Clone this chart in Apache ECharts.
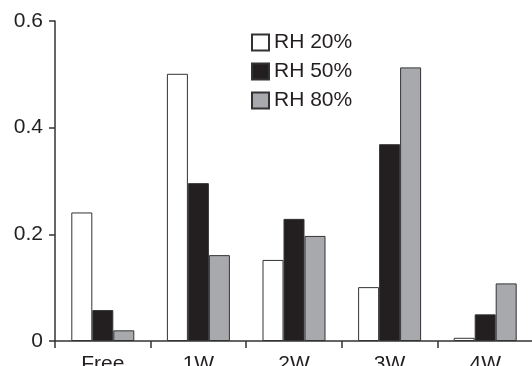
<!DOCTYPE html>
<html>
<head>
<meta charset="utf-8">
<script src="https://cdn.jsdelivr.net/npm/echarts@6/dist/echarts.min.js"></script>
<style>html,body{margin:0;padding:0;background:#fff;}#c{width:532px;height:366px;}</style>
</head>
<body>
<div id="c"></div>
<script>
const categories = ['Free', '1W', '2W', '3W', '4W'];
const seriesNames = ['RH 20%', 'RH 50%', 'RH 80%'];
const rh20 = [0.241, 0.501, 0.152, 0.101, 0.006];
const rh50 = [0.058, 0.296, 0.229, 0.369, 0.050];
const rh80 = [0.020, 0.161, 0.197, 0.513, 0.108];
const yTicks = [0, 0.2, 0.4, 0.6];

const colors = ['#ffffff', '#231f20', '#a7a9ac'];
const dataSets = [rh20, rh50, rh80];
const axisColor = '#333333';
const font = 'Liberation Sans, Arial, sans-serif';

const chart = echarts.init(document.getElementById('c'), null, {renderer: 'canvas'});
chart.setOption({
  animation: false,
  backgroundColor: '#ffffff',
  grid: {left: 55, right: -1, top: 21, bottom: 25, containLabel: false, outerBoundsMode: 'none'},
  legend: {
    orient: 'vertical',
    left: 251, top: 32, padding: 0,
    itemWidth: 17, itemHeight: 16, itemGap: 8,
    icon: 'rect',
    textStyle: {fontSize: 21, color: '#231f20', fontFamily: font},
    data: seriesNames
  },
  xAxis: {
    type: 'category',
    data: categories,
    axisLine: {lineStyle: {color: axisColor, width: 1.5}},
    axisTick: {show: true, length: 7, lineStyle: {color: axisColor, width: 1.5}},
    axisLabel: {fontSize: 21, color: '#231f20', fontFamily: font, margin: 13}
  },
  yAxis: {
    type: 'value',
    min: 0, max: 0.6, interval: 0.2,
    splitLine: {show: false},
    axisLine: {show: true, lineStyle: {color: axisColor, width: 1.5}},
    axisTick: {show: true, length: 6, lineStyle: {color: axisColor, width: 1.5}},
    axisLabel: {fontSize: 21, color: '#231f20', fontFamily: font, margin: 12,
      formatter: v => yTicks.includes(Math.round(v*10)/10) ? String(Math.round(v*10)/10) : ''}
  },
  series: seriesNames.map((n, i) => ({
    name: n,
    type: 'bar',
    data: dataSets[i],
    barWidth: 21,
    barGap: '0%',
    itemStyle: {color: colors[i], borderColor: '#333333', borderWidth: 1}
  }))
});
</script>
</body>
</html>
